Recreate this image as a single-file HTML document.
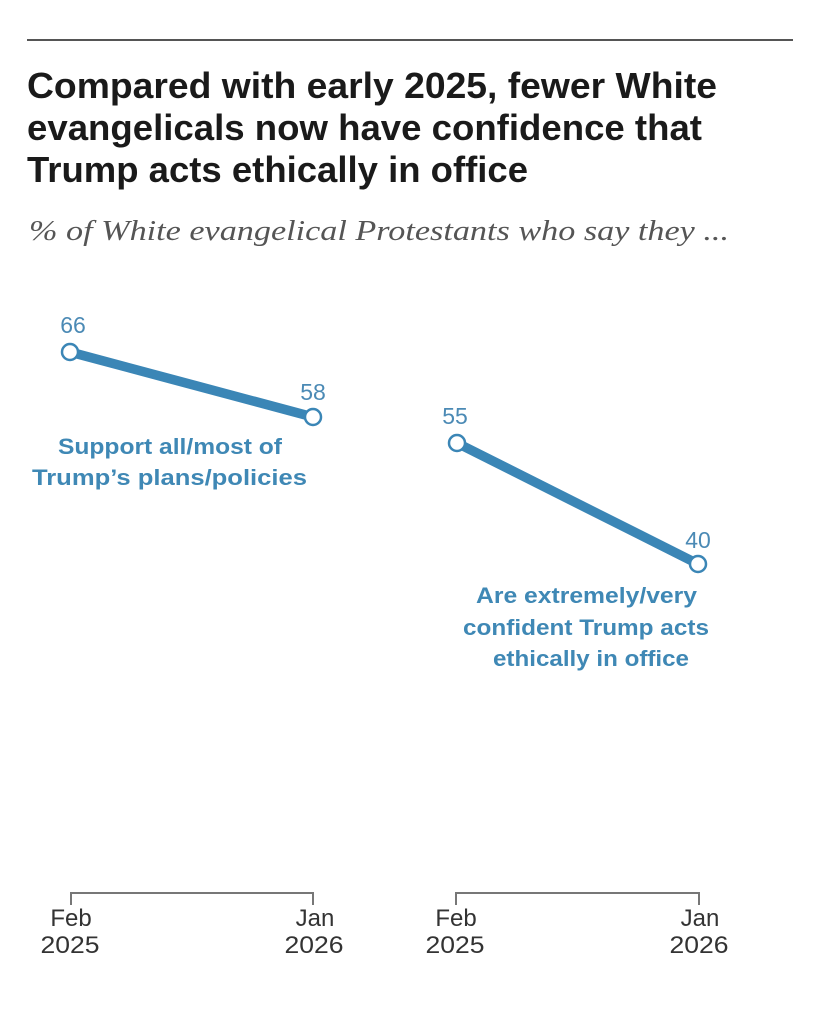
<!DOCTYPE html>
<html>
<head>
<meta charset="utf-8">
<style>
  html,body{margin:0;padding:0;background:#fff;}
  svg{display:block;}
</style>
</head>
<body>
<svg width="829" height="1024" viewBox="0 0 829 1024" xmlns="http://www.w3.org/2000/svg">
  <rect width="829" height="1024" fill="#fff"/>
  <!-- top rule -->
  <rect x="27" y="39" width="766" height="2" fill="#555"/>

  <!-- Title -->
  <g font-family="'Liberation Sans Narrow','Liberation Sans',sans-serif" font-weight="bold" font-size="36" fill="#1a1a1a">
    <text x="27" y="98" textLength="690" lengthAdjust="spacingAndGlyphs">Compared with early 2025, fewer White</text>
    <text x="27" y="140" textLength="675" lengthAdjust="spacingAndGlyphs">evangelicals now have confidence that</text>
    <text x="27" y="182" textLength="501" lengthAdjust="spacingAndGlyphs">Trump acts ethically in office</text>
  </g>

  <!-- Subtitle -->
  <text x="29" y="240" font-family="'Liberation Serif',serif" font-style="italic" font-size="29" fill="#555" textLength="700" lengthAdjust="spacingAndGlyphs">% of White evangelical Protestants who say they ...</text>

  <!-- Series lines -->
  <g stroke="#3b86b6" stroke-width="9.5" stroke-linecap="butt">
    <line x1="70" y1="352" x2="313" y2="417"/>
    <line x1="457" y1="443" x2="698" y2="564"/>
  </g>
  <g fill="#fff" stroke="#3b86b6" stroke-width="2.5">
    <circle cx="70" cy="352" r="8"/>
    <circle cx="313" cy="417" r="8"/>
    <circle cx="457" cy="443" r="8"/>
    <circle cx="698" cy="564" r="8"/>
  </g>

  <!-- Value labels -->
  <g font-family="'Liberation Sans',sans-serif" font-size="23" fill="#4b8ab5" text-anchor="middle">
    <text x="73" y="333">66</text>
    <text x="313" y="400">58</text>
    <text x="455" y="424">55</text>
    <text x="698" y="548">40</text>
  </g>

  <!-- Series labels -->
  <g font-family="'Liberation Sans',sans-serif" font-weight="bold" font-size="22" fill="#3f88b5">
    <text x="58" y="454" textLength="224" lengthAdjust="spacingAndGlyphs">Support all/most of</text>
    <text x="32" y="485" textLength="275" lengthAdjust="spacingAndGlyphs">Trump’s plans/policies</text>
    <text x="476" y="603" textLength="221" lengthAdjust="spacingAndGlyphs">Are extremely/very</text>
    <text x="463" y="635" textLength="246" lengthAdjust="spacingAndGlyphs">confident Trump acts</text>
    <text x="493" y="666" textLength="196" lengthAdjust="spacingAndGlyphs">ethically in office</text>
  </g>

  <!-- Axes -->
  <g fill="none" stroke="#777" stroke-width="2">
    <polyline points="71,905 71,893 313,893 313,905"/>
    <polyline points="456,905 456,893 699,893 699,905"/>
  </g>
  <g font-family="'Liberation Sans',sans-serif" font-size="24" fill="#333" text-anchor="middle">
    <text x="71" y="926">Feb</text>
    <text x="70" y="953" textLength="59" lengthAdjust="spacingAndGlyphs">2025</text>
    <text x="315" y="926">Jan</text>
    <text x="314" y="953" textLength="59" lengthAdjust="spacingAndGlyphs">2026</text>
    <text x="456" y="926">Feb</text>
    <text x="455" y="953" textLength="59" lengthAdjust="spacingAndGlyphs">2025</text>
    <text x="700" y="926">Jan</text>
    <text x="699" y="953" textLength="59" lengthAdjust="spacingAndGlyphs">2026</text>
  </g>
</svg>
</body>
</html>
